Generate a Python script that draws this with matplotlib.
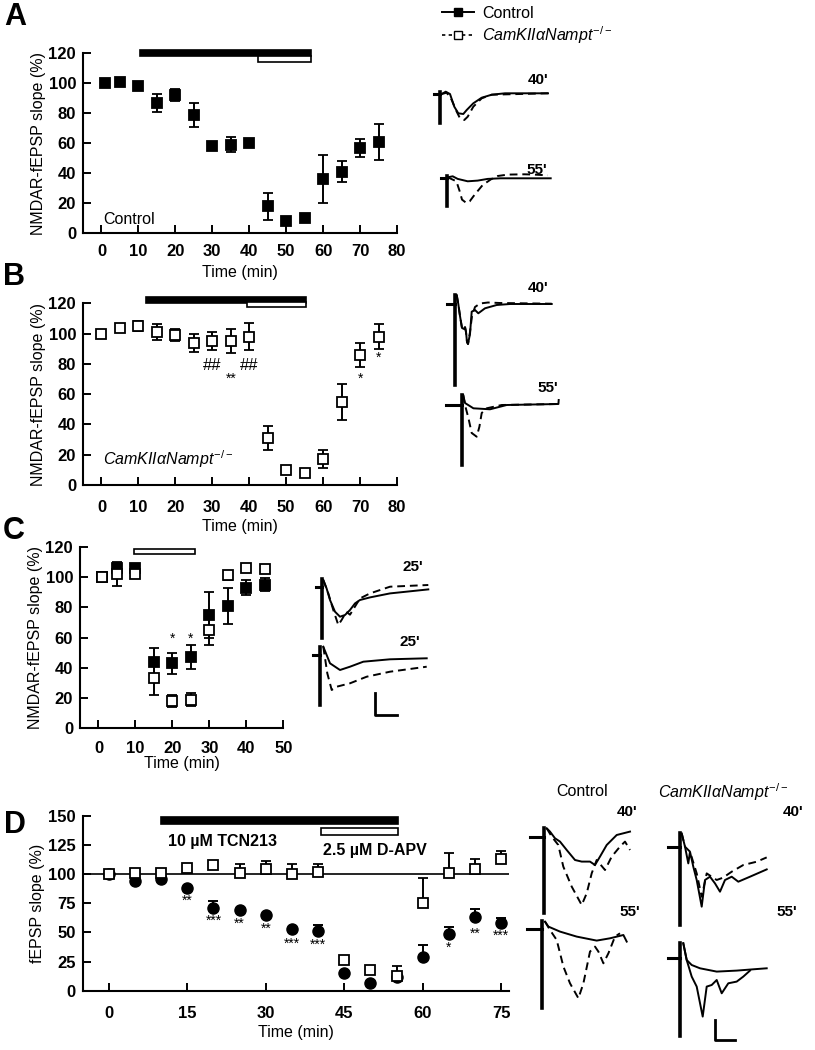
import matplotlib
matplotlib.use('Agg')
import matplotlib.pyplot as plt
from matplotlib.lines import Line2D

plt.rcParams['font.family'] = ['Liberation Sans', 'DejaVu Sans']
plt.rcParams['mathtext.fontset'] = 'custom'
plt.rcParams['mathtext.it'] = 'Liberation Sans:italic'
plt.rcParams['mathtext.rm'] = 'Liberation Sans'

KO = r'$CamKII\alpha Nampt^{-/-}$'

# ---- data ----
# A: control slices, TCN213 then D-APV
a_t = [1, 5, 10, 15, 20, 25, 30, 35, 40, 45, 50, 55, 60, 65, 70, 75]
a_ctrl = [100, 101, 98, 87, 92, 79, 58, 59, 60, 18, 8, 10, 36, 41, 57, 61]
a_err = [0, 0, 0, 6, 4, 8, 2, 5, 0, 9, 0, 0, 16, 7, 6, 12]
a_tcn = [10.5, 56.7]
a_apv = [42.5, 56.7]

# B: knockout slices
b_t = [0, 5, 10, 15, 20, 25, 30, 35, 40, 45, 50, 55, 60, 65, 70, 75]
b_ko = [100, 104, 105, 101, 99, 94, 95, 95, 98, 31, 10, 8, 17, 55, 86, 98]
b_err = [0, 0, 3, 5, 4, 6, 6, 8, 9, 8, 0, 0, 6, 12, 8, 8]
b_tcn = [12, 55.4]
b_apv = [39.5, 55.4]
b_marks = [(30, 79, '##'), (40, 79, '##'), (35, 70, '**'), (70, 70, '*'), (75, 84, '*')]

# C: D-APV alone
c_t = [1, 5, 10, 15, 20, 25, 30, 35, 40, 45]
c_ctrl = [100, 106, 106, 44, 43, 47, 75, 81, 93, 95]
c_ctrl_err = [0, 0, 0, 9, 7, 8, 15, 12, 5, 4]
c_ko = [100, 102, 102, 33, 18, 19, 65, 101, 106, 105]
c_ko_err = [0, 8, 0, 11, 4, 4, 10, 3, 0, 0]
c_apv = [9.6, 26.0]
c_marks = [(20, 59, '*'), (25, 59, '*')]

# D: total fEPSP
d_t = [0, 5, 10, 15, 20, 25, 30, 35, 40, 45, 50, 55, 60, 65, 70, 75]
d_ctrl = [100, 94, 96, 88, 71, 69, 65, 53, 51, 15, 7, 12, 29, 49, 63, 58]
d_ctrl_err = [0, 0, 0, 0, 6, 0, 0, 0, 5, 0, 0, 0, 10, 6, 7, 4]
d_ko = [100, 101, 101, 105, 108, 101, 104, 100, 102, 26, 18, 13, 75, 101, 104, 113]
d_ko_err = [0, 0, 0, 0, 0, 8, 7, 9, 7, 0, 0, 8, 22, 17, 9, 7]
d_tcn = [9.9, 55.3]
d_apv = [40.6, 55.3]
d_marks = [(15, 77, '**'), (20, 60, '***'), (25, 57, '**'), (30, 53, '**'),
           (35, 40, '***'), (40, 39, '***'), (65, 37, '*'), (70, 49, '**'), (75, 47, '***')]

# example traces: (time, amplitude) pairs, artifact at t=0, baseline at 0
trA40_ctrl = [(1.7, 0), (5.7, 2.3), (10, 0), (14.3, -12.7), (18.3, -19.3), (23.3, -20), (26.7, -16),
              (33.3, -9.3), (41.7, -3.7), (51.7, -0.7), (65, 0.7), (108, 0.7)]
trA40_ko = [(1.7, 0), (6.7, 1.3), (11.7, -6), (16.7, -17.7), (20, -24.3), (24.3, -26), (27.7, -22.7),
            (33.3, -12.7), (41.7, -4.3), (51.7, -0.7), (108, 0.7)]
trA55_ctrl = [(1, 1), (6, 2), (11, -0.6), (21, -3), (31, -2.3), (41, -0.6), (54, 0), (104, 0)]
trA55_ko = [(1, 1), (9.7, -3), (13, -13), (15.3, -21.3), (19.7, -24.7), (23, -23), (28, -16.3),
            (36, -6.7), (44.3, -1), (51, 2.3), (61, 3.7), (77.7, 4), (87.7, 3.7), (101, 3)]
trB40_ctrl = [(1.7, 9), (3.3, 0), (5, -12), (7, -24), (9, -25), (10, -23), (11, -28), (12, -38),
              (13, -40), (15, -30), (16.7, -7.7), (20, -6), (23.3, -9.3), (30, -4.3), (41.7, -1),
              (55, 0), (96.7, 0)]
trB40_ko = [(1.7, 9), (3.3, 0), (5, -12), (7, -24), (9, -25), (10, -23), (11, -28), (12, -38),
            (13, -40), (15, -28), (17, -12), (20, -3), (25, 0.5), (33, 1.5), (45, 1), (96.7, 0.3)]
trB55_ctrl = [(1.5, 10), (3.3, 2), (11.7, -3.3), (28.3, -4.3), (45, 0), (96.7, 1), (97, 5)]
trB55_ko = [(1.5, 10), (3.3, 0), (6.7, -13), (10, -28), (15, -31.7), (17.7, -21.7), (20, -8),
            (25, -3.3), (40, 0), (96.7, 1)]
trC1_ctrl = [(1, 6.7), (4.3, -1.7), (7.7, -13.3), (12.7, -25), (17.7, -30), (22.7, -28.3),
             (27.7, -23.3), (32.7, -16.7), (37.7, -13.3), (47.7, -10.7), (67.7, -6.7), (106, -2.7)]
trC1_ko = [(1, 6.7), (6, -6.7), (11, -23.3), (16, -38.3), (19.3, -33.3), (24, -25), (27.7, -28),
           (37.7, -11.7), (47.7, -6.7), (67.7, 0), (106, 1.7)]
trC2_ctrl = [(3.3, 8.3), (10, -8.3), (20, -15), (30, -11.7), (43.3, -6.7), (70, -4.3), (106.7, -3.3)]
trC2_ko = [(3.3, 8.3), (7.3, -18.3), (11.7, -35), (16.7, -31.7), (30, -28.3), (46.7, -21.7),
           (70, -16.7), (106.7, -11.7)]
trDc40_ctrl = [(2.7, 9), (6, 5.7), (11, -1), (16, -4.3), (22.7, -12.7), (31, -22.7), (37.7, -24.3),
               (46, -24.3), (51, -27.7), (56, -19.3), (62.7, -7.7), (72.7, 2.3), (86, 5.7)]
trDc40_ko = [(2.7, 9), (7.7, 0.7), (14.3, -7.7), (19.3, -29.3), (27.7, -49.3), (37.7, -67.7),
             (42.7, -56), (47.7, -36), (52.7, -22.7), (61, -32.7), (67.7, -19.3), (76, -9.3),
             (81, -4.3), (86, -12.7)]
trDc55_ctrl = [(3.3, 7.7), (6.7, 2.7), (18.3, -2.3), (35, -7.3), (55, -11.3), (68.3, -9),
               (81.7, -5.7), (85, -12.3)]
trDc55_ko = [(3.3, 7.7), (8.3, -0.7), (15, -10.7), (21.7, -37.3), (28.3, -54), (36.7, -69),
             (41.7, -54), (48.3, -22.3), (53.3, -17.3), (56.7, -22.3), (61.7, -34), (66.7, -24),
             (73.3, -7.3), (78.3, -4)]
trDk40_ctrl = [(1.7, 13.3), (5, 0), (8.3, -16.7), (10, -5), (13.3, -20), (16.7, -33.3), (21.7, -60),
               (25, -33.3), (30, -30), (35, -36.7), (40, -45), (45, -33.3), (51.7, -30),
               (58.3, -35), (70, -30), (86.7, -22.7)]
trDk40_ko = [(1.7, 13.3), (5, 0), (10, -5), (16.7, -26.7), (21.7, -50), (26.7, -26.7),
             (36.7, -33.3), (43, -31), (51.7, -25), (63.3, -18.3), (76.7, -15), (86.7, -10.7)]
trDk55_ctrl = [(3.3, 15), (6.7, -1.7), (11.7, -6.7), (20, -10), (36.7, -13.3), (56.7, -12.3),
               (73.3, -11), (86.7, -10)]
trDk55_ko = [(3.3, 15), (6.7, -1.7), (11.7, -18.3), (16.7, -28.3), (22.7, -58.3), (26.7, -28.3),
             (31.7, -26.7), (36.7, -21.7), (41.7, -35), (48.3, -25), (56.7, -23.3), (63.3, -18.3),
             (70, -12.3)]

fig = plt.figure(figsize=(8.15, 10.5), dpi=100)
W, H = 815, 1050


def px_axes(left, top0, right, bottom0):
    return fig.add_axes([left / W, 1 - bottom0 / H, (right - left) / W, (bottom0 - top0) / H])


def style(ax, xlim, ylim, xticks, yticks, xpad, lpad):
    ax.set_xlim(*xlim)
    ax.set_ylim(*ylim)
    ax.set_xticks(xticks)
    ax.set_yticks(yticks)
    for s in ['top', 'right']:
        ax.spines[s].set_visible(False)
    for s in ['left', 'bottom']:
        ax.spines[s].set_linewidth(1.5)
    ax.tick_params(direction='in', length=6, width=1.4, labelsize=12, pad=5)
    ax.tick_params(axis='x', pad=xpad)
    for lab in ax.get_xticklabels() + ax.get_yticklabels():
        lab.set_fontweight('bold')
    ax.set_xlabel('Time (min)', fontsize=11.5, labelpad=lpad)


def app_bar(ax, span, y, h, filled):
    ax.barh(y, span[1] - span[0], height=h, left=span[0], color='k' if filled else 'white',
            edgecolor='k', linewidth=1.2, clip_on=False, zorder=3)


def sym_err(ax, t, v, e, filled, ms=7):
    ax.errorbar(t, v, yerr=e, fmt='s', ms=ms, mfc='k' if filled else 'white', mec='k', mew=1.3,
                ecolor='k', elinewidth=1.4, capsize=3.5, capthick=1.4, zorder=4)


# ---- A ----
axA = px_axes(83, 53.3, 397, 233.3)
sym_err(axA, a_t, a_ctrl, a_err, True)
app_bar(axA, a_tcn, 120, 4.0, True)
app_bar(axA, a_apv, 116, 4.0, False)
axA.text(0.5, 9, 'Control', fontsize=11.5, va='center')
style(axA, (-5, 80), (0, 120), range(0, 81, 10), range(0, 121, 20), 8, 4)
axA.set_ylabel('NMDAR-fEPSP slope (%)', fontsize=11.5, labelpad=2)

# ---- B ----
axB = px_axes(83, 303.3, 397, 485)
sym_err(axB, b_t, b_ko, b_err, False)
app_bar(axB, b_tcn, 122.2, 3.6, True)
app_bar(axB, b_apv, 119.4, 3.2, False)
for x, y, s in b_marks:
    axB.text(x, y, s, ha='center', va='center', fontsize=12 if '#' in s else 10)
axB.text(0.5, 17, KO, fontsize=11.5, va='center')
style(axB, (-5, 80), (0, 120), range(0, 81, 10), range(0, 121, 20), 11, 3)
axB.set_ylabel('NMDAR-fEPSP slope (%)', fontsize=11.5, labelpad=2)

# ---- C ----
axC = px_axes(80, 546.7, 283.3, 728.3)
sym_err(axC, c_t, c_ctrl, c_ctrl_err, True)
sym_err(axC, c_t, c_ko, c_ko_err, False)
app_bar(axC, c_apv, 116.7, 3.2, False)
for x, y, s in c_marks:
    axC.text(x, y, s, ha='center', va='center', fontsize=10)
style(axC, (-5, 50), (0, 120), range(0, 51, 10), range(0, 121, 20), 9, 0)
axC.set_ylabel('NMDAR-fEPSP slope (%)', fontsize=11.5, labelpad=2)

# ---- D ----
axD = px_axes(82.7, 815.7, 509, 990.7)
axD.axhline(100, color='k', lw=1.2, zorder=1)
zero = [0] * len(d_t)
axD.errorbar(d_t, d_ctrl, yerr=[zero, d_ctrl_err], fmt='o', ms=8, mfc='k', mec='k', ecolor='k',
             elinewidth=1.4, capsize=3.5, capthick=1.4, zorder=4)
axD.errorbar(d_t, d_ko, yerr=[zero, d_ko_err], fmt='s', ms=7, mfc='white', mec='k', mew=1.3,
             ecolor='k', elinewidth=1.4, capsize=3.5, capthick=1.4, zorder=5)
app_bar(axD, d_tcn, 145.8, 5.7, True)
app_bar(axD, d_apv, 136.3, 5.7, False)
axD.text(11.3, 127.5, '10 µM TCN213', fontsize=11.5, fontweight='bold', va='center')
axD.text(41, 120.5, '2.5 µM D-APV', fontsize=11.5, fontweight='bold', va='center')
for x, y, s in d_marks:
    axD.text(x, y, s, ha='center', va='center', fontsize=10)
style(axD, (-5, 76.5), (0, 150), range(0, 76, 15), range(0, 151, 25), 11, 3)
axD.set_ylabel('fEPSP slope (%)', fontsize=11.5, labelpad=2)

# ---- panel letters ----
for lab, x, y in [('A', 15, 17), ('B', 14, 277), ('C', 14, 531), ('D', 15, 825)]:
    fig.text(x / W, 1 - y / H, lab, fontsize=22, fontweight='bold', ha='center', va='center')

# ---- legend ----
h1 = Line2D([], [], color='k', lw=1.4, marker='s', ms=5.5, mfc='k', mec='k')
h2 = Line2D([], [], color='k', lw=1.2, ls=(0, (2, 2)), marker='s', ms=5.5, mfc='white', mec='k')
fig.legend([h1, h2], ['Control', KO], loc='upper left', bbox_to_anchor=(442 / W, 1 - 6 / H),
           frameon=False, fontsize=11.5, handlelength=2.0, borderaxespad=0, labelspacing=0.2,
           handletextpad=0.5, borderpad=0)

# ---- example traces ----
ov = fig.add_axes([0, 0, 1, 1])
ov.set_xlim(0, W)
ov.set_ylim(H, 0)
ov.axis('off')


def trace(x0, y0, solid, dashed, depth, top, stub, dashed_solid=False):
    ov.plot([x0 - stub, x0], [y0, y0], color='k', lw=2.2)
    ov.plot([x0, x0], [y0 - top, y0 + depth], color='k', lw=2.6)
    ov.plot([x0 + t for t, v in solid], [y0 - v for t, v in solid], color='k', lw=1.4)
    ls = '-' if dashed_solid else (0, (4, 2.5))
    ov.plot([x0 + t for t, v in dashed], [y0 - v for t, v in dashed], color='k', lw=1.4, ls=ls)


trace(440, 94, trA40_ctrl, trA40_ko, 29, 2, 6)
trace(446.7, 178.3, trA55_ctrl, trA55_ko, 28, 2, 6)
trace(455, 304, trB40_ctrl, trB40_ko, 81, 9, 8)
trace(461.7, 405, trB55_ctrl, trB55_ko, 60, 10, 16)
trace(322.3, 586.7, trC1_ctrl, trC1_ko, 51, 8, 6)
trace(320, 655, trC2_ctrl, trC2_ko, 50, 8, 7)
trace(544, 837.3, trDc40_ctrl, trDc40_ko, 76, 9, 14)
trace(541.7, 929.3, trDc55_ctrl, trDc55_ko, 79, 8, 15)
trace(680, 846.7, trDk40_ctrl, trDk40_ko, 78, 14, 12)
trace(680, 958.3, trDk55_ctrl, trDk55_ko, 78, 15, 12, dashed_solid=True)

for s, x, y in [("40'", 538, 80), ("55'", 537, 170), ("40'", 538, 288), ("55'", 548, 388),
                ("25'", 413, 567), ("25'", 410, 642), ("40'", 627, 812), ("55'", 630, 912),
                ("40'", 793, 812), ("55'", 787, 912)]:
    ov.text(x, y, s, fontsize=11, fontweight='bold', ha='center', va='center')
ov.text(582, 792, 'Control', fontsize=11.5, ha='center', va='center')
ov.text(723, 792, KO, fontsize=11.5, ha='center', va='center')

# scale bars
ov.plot([375, 375, 397], [693, 715, 715], color='k', lw=2)
ov.plot([715, 715, 735], [1020, 1040, 1040], color='k', lw=2)

fig.savefig('out.png', dpi=100)
